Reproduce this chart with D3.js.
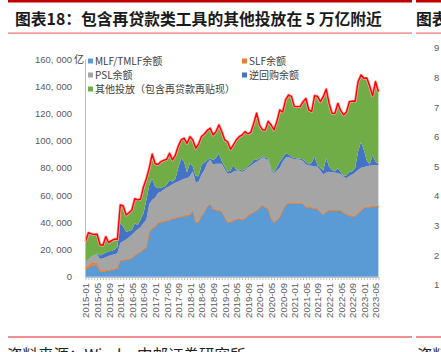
<!DOCTYPE html>
<html>
<head>
<meta charset="utf-8">
<script src="https://cdn.jsdelivr.net/npm/d3@7"></script>
<style>
body { margin: 0; background: #fff; }
svg { display: block; }
</style>
</head>
<body>
<script>
// monthly balances, 亿元, 2015-01 .. 2023-06
var mlf = [5000,6500,8000,8700,8500,4000,3700,4100,4500,5000,5400,5900,
  11700,12000,12300,12500,13500,15500,17000,18000,20000,21500,32400,35400,
  36400,39400,39900,40500,41000,41500,42500,43000,43500,44000,44500,44800,
  45500,48500,39900,40000,44500,47500,51500,53400,49500,49000,48500,48000,
  43500,39900,40000,41200,42000,42500,41500,42500,44800,46000,47500,48500,
  50500,52200,51000,49800,42500,39900,41500,43500,48500,52500,53900,54000,
  53900,53900,53900,53500,51000,50500,50500,50000,49800,47500,45600,47500,
  48500,48500,48500,48500,48500,47000,45600,45000,44100,44500,46500,48500,
  50500,51000,51000,51500,51500,51500];
var slf = [2000,2000,2000,1800,1500,1000,800,700,700,600,600,600,
  600,500,500,500,500,500,500,500,500,500,600,600,
  600,600,600,500,500,500,500,500,500,500,500,500,
  500,500,500,500,500,500,500,500,500,500,500,500,
  500,500,500,500,500,500,500,500,500,500,500,500,
  500,500,500,500,500,500,500,500,500,500,500,500,
  500,500,500,500,500,500,500,500,500,500,500,500,
  500,500,500,500,500,500,500,500,500,500,500,500,
  500,500,500,500,500,500];
var psl = [3500,4000,4500,5000,6500,8000,9000,9500,10000,10300,10500,10800,
  12500,13500,14500,16000,16800,17000,17300,18000,19000,20000,20500,20500,
  21000,21500,22000,23000,24000,24500,25000,25500,26000,26500,27000,27000,
  28000,28500,29000,29500,30000,30500,31500,32000,32500,33500,34000,34500,
  35000,35200,35400,35500,35300,35000,35000,35000,35000,35000,35200,35400,
  35000,35000,35200,35500,35300,35500,36000,36000,35500,34500,33500,32500,
  32000,31800,31500,31000,31000,30800,30500,30500,30500,30000,29000,28500,
  28200,27800,27500,27000,26500,26000,26200,28500,30500,31500,31500,31000,
  29500,29900,30000,30000,30100,30100];
var rrepo = [500,300,300,300,500,2500,3000,3500,3500,3000,3500,4500,
  14700,11000,5800,4500,3500,6200,3200,5500,7100,14400,13900,15500,
  8200,3500,3000,2000,2000,4600,1800,3000,10000,16000,12500,4200,
  9300,3500,4600,3800,7100,5500,2300,1100,3000,4500,7700,2000,
  2000,1600,2100,4900,600,1000,1000,1000,1200,1500,2600,1500,
  1000,1000,800,1200,1000,600,2800,4500,3000,3200,2100,1000,
  1100,600,800,1300,2000,600,2500,7200,1200,2000,2900,10500,
  3800,1600,1000,3700,1500,500,2200,3000,2400,3500,13500,19200,
  12600,4000,1000,7400,2400,900];
var other = [14700,19500,16700,15200,14200,8000,6500,11600,6300,7600,7600,5700,
  13200,15000,12200,13500,14700,18100,18400,15000,19400,15600,12600,18000,
  16800,17500,19000,19500,18800,19600,16000,17400,16000,13500,17200,21500,
  19600,19500,20400,23700,20900,20900,21700,22100,18600,19100,20800,21600,
  19500,22000,15600,14700,22100,23900,26100,27600,23400,23000,26900,34200,
  24500,19300,20300,27200,32200,31300,33400,38000,33500,39300,43500,44500,
  37500,38200,38300,42200,46500,40100,37500,44800,50500,48600,54300,50800,
  46400,41700,42500,47700,45000,44900,46500,51600,51500,49000,51300,49000,
  52700,60600,57500,43600,58800,53000];

var seriesNames = ["MLF/TMLF余额", "SLF余额", "PSL余额", "逆回购余额", "其他投放（包含再贷款再贴现）"];
var seriesColors = ["#5B9BD5", "#ED7D31", "#A5A5A5", "#4472C4", "#70AD47"];
var keys = ["mlf", "slf", "psl", "rrepo", "other"];

var fmtMonth = d3.timeFormat("%Y-%m");
var months = d3.timeMonth.range(new Date(2015, 0, 1), new Date(2023, 6, 1)).map(fmtMonth);
var tickLabels = ["2015-01","2015-05","2015-09","2016-01","2016-05","2016-09","2017-01","2017-05",
  "2017-09","2018-01","2018-05","2018-09","2019-01","2019-05","2019-09","2020-01","2020-05",
  "2020-09","2021-01","2021-05","2021-09","2022-01","2022-05","2022-09","2023-01","2023-05"];
var yTicks = [0, 20000, 40000, 60000, 80000, 100000, 120000, 140000, 160000];

var table = months.map(function(m, i) {
  return {month: m, mlf: mlf[i], slf: slf[i], psl: psl[i], rrepo: rrepo[i], other: other[i]};
});

var W = 441, H = 352;
var svg = d3.select("body").append("svg").attr("width", W).attr("height", H);
var cjk = "'Noto Sans CJK SC', 'Noto Sans', sans-serif";

// header rules and title
svg.append("rect").attr("x", 8).attr("y", 0).attr("width", 404).attr("height", 2.5).attr("fill", "#C00000");
svg.append("rect").attr("x", 416).attr("y", 0).attr("width", 25).attr("height", 2.5).attr("fill", "#C00000");
svg.append("rect").attr("x", 8).attr("y", 32.5).attr("width", 404).attr("height", 1.2).attr("fill", "#E57373");
svg.append("rect").attr("x", 416).attr("y", 32.5).attr("width", 25).attr("height", 1.2).attr("fill", "#E57373");
svg.append("text").attr("x", 15).attr("y", 25)
  .style("font-family", cjk).style("font-weight", "bold").style("font-size", "15.8px").attr("fill", "#1a1a1a")
  .text("图表18：包含再贷款类工具的其他投放在 5 万亿附近");
svg.append("text").attr("x", 416).attr("y", 25)
  .style("font-family", cjk).style("font-weight", "bold").style("font-size", "15.8px").attr("fill", "#1a1a1a")
  .text("图表");

// footer
svg.append("rect").attr("x", 8).attr("y", 336.5).attr("width", 404).attr("height", 1).attr("fill", "#E02020");
svg.append("rect").attr("x", 416).attr("y", 336.5).attr("width", 25).attr("height", 1).attr("fill", "#E02020");
svg.append("text").attr("x", 7).attr("y", 361)
  .style("font-family", cjk).style("font-size", "15.5px").attr("fill", "#222")
  .text("资料来源：Wind，中邮证券研究所");
svg.append("text").attr("x", 417).attr("y", 361)
  .style("font-family", cjk).style("font-size", "15.5px").attr("fill", "#222")
  .text("资料");

// neighbouring chart's axis labels, cut by the page edge
var nextTicks = ["9", "8", "7", "6", "5", "4", "3", "2", "1"];
var yNext = d3.scalePoint().domain(nextTicks).range([48, 285]);
svg.append("g").selectAll("text").data(nextTicks).join("text")
  .attr("x", 434).attr("y", function(d) { return yNext(d); }).attr("dy", "0.35em")
  .style("font-family", "'Liberation Sans', Arial, sans-serif").style("font-size", "9.5px")
  .attr("fill", "#595959").text(function(d) { return d; });

// scales
var x = d3.scalePoint().domain(months).range([85.5, 378.4]);
var y = d3.scaleLinear().domain([0, 160000]).range([276.7, 59]);

var stack = d3.stack().keys(keys);
var layers = stack(table);

var area = d3.area()
  .x(function(d) { return x(d.data.month); })
  .y0(function(d) { return y(d[0]); })
  .y1(function(d) { return y(d[1]); });

svg.append("g").selectAll("path").data(layers).join("path")
  .attr("d", area)
  .attr("fill", function(d, i) { return seriesColors[i]; })
  .attr("stroke", function(d, i) { return i == 1 ? seriesColors[1] : "none"; })
  .attr("stroke-width", 0.9);

// red outline along the total
var totalLine = d3.line()
  .x(function(d) { return x(d.data.month); })
  .y(function(d) { return y(d[1]); });
svg.append("path").datum(layers[4])
  .attr("d", totalLine)
  .attr("fill", "none").attr("stroke", "#FFA8A8").attr("stroke-width", 2.8).attr("stroke-linejoin", "round");
svg.append("path").datum(layers[4])
  .attr("d", totalLine)
  .attr("fill", "none").attr("stroke", "#FF0000").attr("stroke-width", 1.4).attr("stroke-linejoin", "round");

// y axis
var yAxis = svg.append("g").attr("transform", "translate(85,0)")
  .call(d3.axisLeft(y).tickValues(yTicks).tickSize(0).tickPadding(13)
    .tickFormat(function(d) { return d3.format(",")(d).replace(",", ", "); }));
yAxis.select(".domain").attr("stroke", "#BFBFBF");
yAxis.selectAll("text").style("font-family", "'Liberation Sans', Arial, sans-serif")
  .style("font-size", "9.5px").attr("fill", "#595959");
svg.append("text").attr("x", 74).attr("y", 59).attr("dy", "0.35em")
  .style("font-family", cjk).style("font-size", "10px").attr("fill", "#404040").text("亿");

// x axis
var xAxis = svg.append("g").attr("transform", "translate(0,277)")
  .call(d3.axisBottom(x).tickSize(3).tickSizeOuter(0)
    .tickFormat(function(d) { return tickLabels.indexOf(d) >= 0 ? d : ""; }));
xAxis.select(".domain").attr("stroke", "#BFBFBF");
xAxis.selectAll(".tick line").attr("stroke", "#BFBFBF");
xAxis.selectAll("text")
  .attr("transform", "rotate(-90)")
  .attr("y", 0).attr("x", -6).attr("dy", "0.35em")
  .style("text-anchor", "end")
  .style("font-family", "'Liberation Sans', Arial, sans-serif").style("font-size", "9.5px")
  .attr("fill", "#595959");

// legend
var legendPos = [[88, 61], [242, 61], [88, 75], [242, 75], [88, 89]];
var legend = svg.append("g").selectAll("g").data(seriesNames).join("g")
  .attr("transform", function(d, i) { return "translate(" + legendPos[i][0] + "," + legendPos[i][1] + ")"; });
legend.append("rect").attr("x", 0).attr("y", -2.5).attr("width", 5).attr("height", 5)
  .attr("fill", function(d, i) { return seriesColors[i]; });
legend.append("text").attr("x", 7).attr("y", 0).attr("dy", "0.35em")
  .style("font-family", cjk).style("font-size", "10px").attr("fill", "#404040")
  .text(function(d) { return d; });
</script>
</body>
</html>
